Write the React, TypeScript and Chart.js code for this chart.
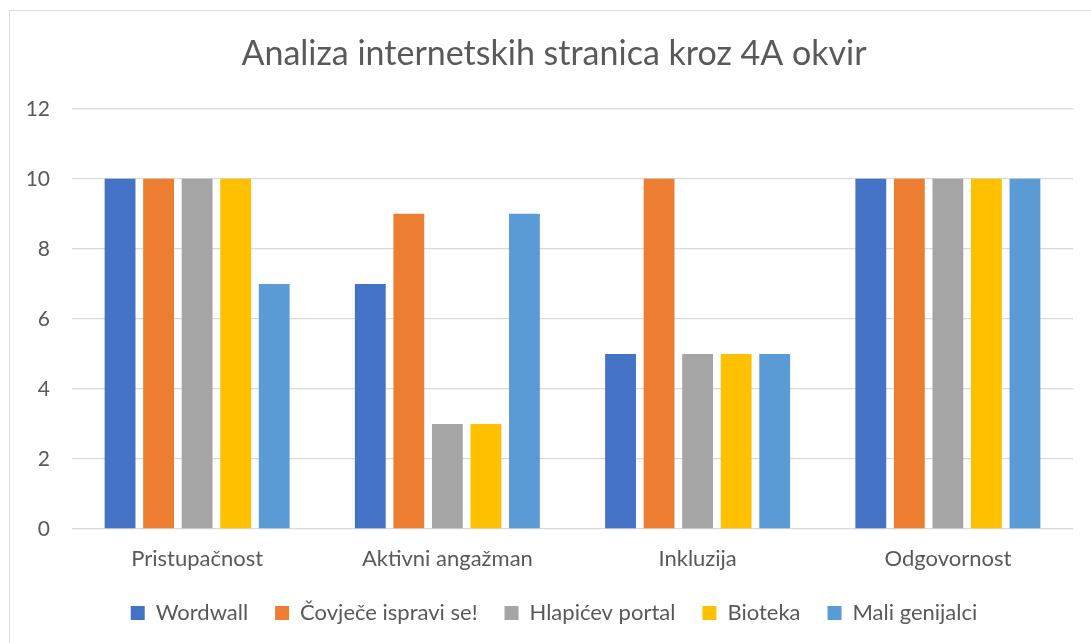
import React, { useEffect, useRef } from "react";
import { Chart, registerables } from "chart.js";

Chart.register(...registerables);

const title = "Analiza internetskih stranica kroz 4A okvir";
const categories = ["Pristupačnost", "Aktivni angažman", "Inkluzija", "Odgovornost"];
const seriesNames = ["Wordwall", "Čovječe ispravi se!", "Hlapićev portal", "Bioteka", "Mali genijalci"];
const wordwall = [10, 7, 5, 10];
const covjece = [10, 9, 10, 10];
const hlapicev = [10, 3, 5, 10];
const bioteka = [10, 3, 5, 10];
const maliGenijalci = [7, 9, 5, 10];
const seriesColors = ["#4472C4", "#ED7D31", "#A5A5A5", "#FFC000", "#5B9BD5"];
const yTicks = [0, 2, 4, 6, 8, 10, 12];

const FONT = "Lato, 'Open Sans', sans-serif";
const TEXT = "#595959";

export default function App() {
  const ref = useRef<HTMLCanvasElement>(null);
  useEffect(() => {
    if (!ref.current) return;
    const values = [wordwall, covjece, hlapicev, bioteka, maliGenijalci];
    const chart = new Chart(ref.current, {
      type: "bar",
      data: {
        labels: categories,
        datasets: seriesNames.map((name, i) => ({
          label: name,
          data: values[i],
          backgroundColor: seriesColors[i],
          borderWidth: 0,
          categoryPercentage: 0.77,
          barPercentage: 0.8,
        })),
      },
      options: {
        animation: false,
        responsive: true,
        maintainAspectRatio: false,
        layout: { padding: { left: 0, right: 0, top: 0, bottom: 16 } },
        plugins: {
          title: {
            display: true,
            text: title,
            color: TEXT,
            font: { family: FONT, size: 34, weight: "normal" },
            padding: { top: 23, bottom: 34 },
          },
          legend: {
            position: "bottom",
            labels: {
              color: TEXT,
              font: { family: FONT, size: 22 },
              boxWidth: 14,
              boxHeight: 14,
              padding: 27,
            },
          },
          tooltip: { enabled: false },
        },
        scales: {
          x: {
            grid: { display: false, drawTicks: false },
            border: { display: false },
            ticks: { color: TEXT, font: { family: FONT, size: 22 }, padding: 17 },
            afterFit: (axis: any) => {
              axis.height = 46;
            },
          },
          y: {
            min: 0,
            max: 12,
            afterBuildTicks: (axis: any) => {
              axis.ticks = yTicks.map((v) => ({ value: v }));
            },
            grid: { color: "#D9D9D9", lineWidth: 1.3, drawTicks: false },
            border: { display: false },
            ticks: { color: TEXT, font: { family: FONT, size: 21 }, padding: 22 },
            afterFit: (axis: any) => {
              axis.width = 62;
            },
          },
          yRight: {
            type: "linear",
            position: "right",
            display: true,
            grid: { display: false, drawTicks: false },
            border: { display: false },
            ticks: { display: false },
            afterFit: (axis: any) => {
              axis.width = 25;
            },
          },
        },
      },
    });
    return () => chart.destroy();
  }, []);
  return (
    <div
      style={{
        position: "absolute",
        left: 9,
        top: 10,
        width: 1082,
        height: 633,
        overflow: "hidden",
      }}
    >
      <div
        style={{
          width: 1090,
          height: 640,
          borderLeft: "1px solid #D9D9D9",
          borderTop: "1px solid #D9D9D9",
          borderRight: "1px solid #D9D9D9",
          boxSizing: "border-box",
          position: "relative",
        }}
      >
        <canvas ref={ref} />
      </div>
    </div>
  );
}
